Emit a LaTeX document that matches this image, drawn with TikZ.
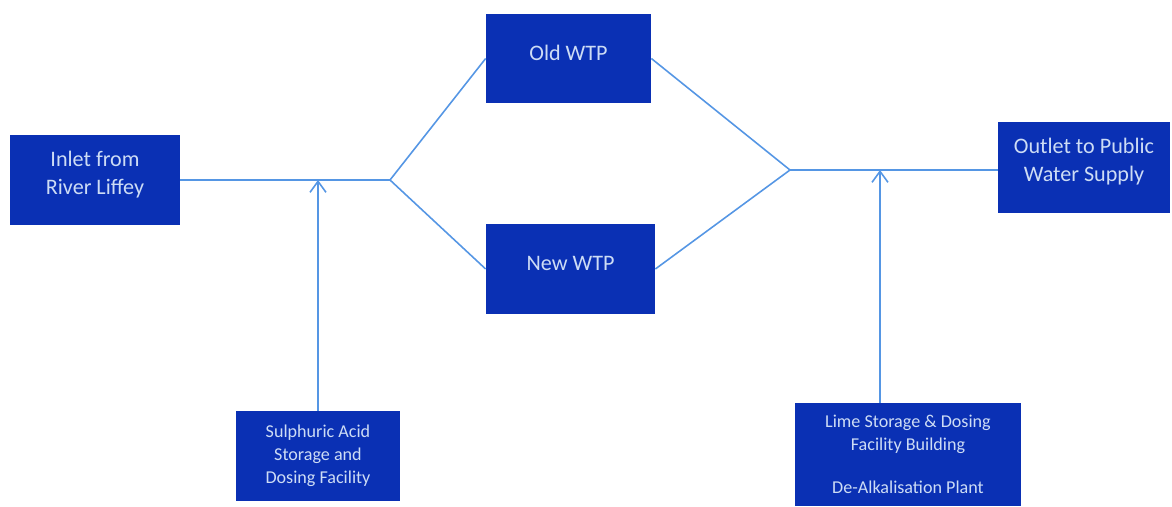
\documentclass[tikz,border=0pt]{standalone}
\usepackage{fontspec}
\setmainfont{Carlito}
\usetikzlibrary{arrows.meta, positioning}
\definecolor{boxblue}{RGB}{10,48,180}
\definecolor{boxtext}{RGB}{205,220,245}
\definecolor{pipe}{RGB}{85,150,228}
\tikzstyle{every picture} = [pipeline/.style={draw=pipe, line width=0.9pt}, feed/.style={draw=pipe, line width=0.9pt, -{Straight Barb[length=2.2mm, width=3.2mm]}}]
\tikzstyle{unit} = [rectangle, fill=boxblue, text=boxtext, align=center, inner sep=0pt]
\tikzstyle{plant} = [unit, text depth=0.3cm, font=\fontsize{12.6}{16}\selectfont]
\tikzstyle{dosing} = [unit, font=\fontsize{10.3}{13}\selectfont]

\begin{document}
\begin{tikzpicture}
            \useasboundingbox (0,0) rectangle (23.44,10.12);
            \node (inlet) [plant, minimum width=3.4cm, minimum height=1.8cm] at (1.9,6.52) {Inlet from\\River Liffey};
            \node (old wtp) [plant, text depth=0.24cm, minimum width=3.3cm, minimum height=1.78cm] at (11.37,8.95) {Old WTP};
            \node (new wtp) [plant, text depth=0.24cm, minimum width=3.38cm, minimum height=1.8cm] at (11.41,4.74) {New WTP};
            \node (outlet) [plant, minimum width=3.44cm, minimum height=1.82cm] at (21.68,6.77) {Outlet to Public\\Water Supply};
            \node (acid) [dosing, minimum width=3.28cm, minimum height=1.8cm] at (6.36,1.0) {Sulphuric Acid\\Storage and\\Dosing Facility};
            \node (lime) [dosing, minimum width=4.52cm, minimum height=2.06cm] at (18.16,1.03) {Lime Storage \& Dosing\\Facility Building\\[4mm]De-Alkalisation Plant};

            \coordinate (split) at (7.8,6.52);
            \coordinate (merge) at (15.8,6.72);
            \coordinate (acid in) at (6.36,6.52);
            \coordinate (lime in) at (17.6,6.72);

            \path (inlet) edge[pipeline] (split)
                  (split) edge[pipeline] (old wtp.west)
                  (split) edge[pipeline] (new wtp.west)
                  (old wtp.east) edge[pipeline] (merge)
                  (new wtp.east) edge[pipeline] (merge)
                  (merge) edge[pipeline] (merge -| outlet.west)
                  (acid) edge[feed] (acid in)
                  (lime.north -| lime in) edge[feed] (lime in);
        \end{tikzpicture}
\end{document}
